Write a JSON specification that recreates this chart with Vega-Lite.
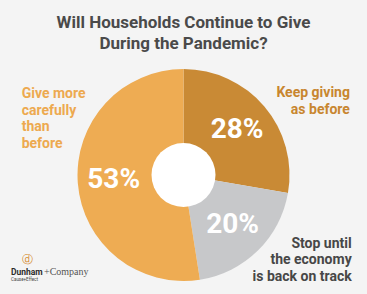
{
  "$schema": "https://vega.github.io/schema/vega-lite/v6.json",
  "width": 367,
  "height": 238,
  "autosize": {"type": "none"},
  "padding": {"top": 56, "left": 0, "right": 0, "bottom": 0},
  "background": "#F4F4F4",
  "title": {
    "text": ["Will Households Continue to Give", "During the Pandemic?"],
    "anchor": "middle",
    "frame": "group",
    "font": "Roboto",
    "fontSize": 17,
    "fontWeight": "bold",
    "color": "#4A4A4A",
    "lineHeight": 21,
    "offset": -2
  },
  "config": {"view": {"stroke": null}},
  "data": {
    "values": [
      {"category": "Keep giving as before", "label": "Keep giving\nas before", "pct": "28%", "value": 28, "rank": 1},
      {"category": "Stop until the economy is back on track", "label": "Stop until\nthe economy\nis back on track", "pct": "20%", "value": 20, "rank": 2},
      {"category": "Give more carefully than before", "label": "Give more\ncarefully\nthan\nbefore", "pct": "53%", "value": 53, "rank": 3}
    ]
  },
  "layer": [
    {
      "mark": {"type": "arc", "outerRadius": 106, "innerRadius": 0},
      "encoding": {
        "theta": {"field": "value", "type": "quantitative", "stack": true},
        "order": {"field": "rank", "type": "ordinal"},
        "color": {
          "field": "category",
          "type": "nominal",
          "scale": {
            "domain": ["Keep giving as before", "Stop until the economy is back on track", "Give more carefully than before"],
            "range": ["#C98A35", "#C7C8CA", "#EEAC53"]
          },
          "legend": null
        }
      }
    },
    {
      "data": {"values": [{"hole": "center"}]},
      "mark": {"type": "arc", "radius": 32, "theta": 0, "theta2": 6.2832, "fill": "#FFFFFF"},
      "encoding": {}
    },
    {
      "mark": {"type": "text", "radius": 70, "font": "Roboto", "fontSize": 28, "fontWeight": "bold", "fill": "#FFFFFF", "align": "center", "baseline": "middle"},
      "encoding": {
        "theta": {"field": "value", "type": "quantitative", "stack": true},
        "order": {"field": "rank", "type": "ordinal"},
        "text": {"field": "pct", "type": "nominal"}
      }
    },
    {
      "mark": {"type": "text", "radius": 130, "font": "Roboto", "fontSize": 14, "fontWeight": "bold", "fill": "#C8862F", "align": "right", "baseline": "alphabetic", "lineBreak": "\n", "lineHeight": 17, "dx": 67, "dy": 6},
      "encoding": {
        "theta": {"field": "value", "type": "quantitative", "stack": true},
        "order": {"field": "rank", "type": "ordinal"},
        "text": {"condition": {"test": "datum.rank === 1", "field": "label"}, "value": ""}
      }
    },
    {
      "mark": {"type": "text", "radius": 130, "font": "Roboto", "fontSize": 14, "fontWeight": "bold", "fill": "#474747", "align": "right", "baseline": "alphabetic", "lineBreak": "\n", "lineHeight": 16.5, "dx": 77, "dy": -20},
      "encoding": {
        "theta": {"field": "value", "type": "quantitative", "stack": true},
        "order": {"field": "rank", "type": "ordinal"},
        "text": {"condition": {"test": "datum.rank === 2", "field": "label"}, "value": ""}
      }
    },
    {
      "mark": {"type": "text", "radius": 50, "font": "Roboto", "fontSize": 14, "fontWeight": "bold", "fill": "#EDA94F", "align": "left", "baseline": "alphabetic", "lineBreak": "\n", "lineHeight": 16.7, "dx": -112, "dy": -81},
      "encoding": {
        "theta": {"field": "value", "type": "quantitative", "stack": true},
        "order": {"field": "rank", "type": "ordinal"},
        "text": {"condition": {"test": "datum.rank === 3", "field": "label"}, "value": ""}
      }
    },
    {
      "data": {"values": [{"brand": "Dunham"}]},
      "mark": {"type": "text", "x": 11, "y": 219, "font": "Roboto", "fontSize": 8.5, "fontWeight": "bold", "fill": "#2B2B2B", "align": "left", "baseline": "alphabetic"},
      "encoding": {"text": {"field": "brand", "type": "nominal"}}
    },
    {
      "data": {"values": [{"brand": "+Company"}]},
      "mark": {"type": "text", "x": 44, "y": 219, "font": "Liberation Serif", "fontSize": 10, "fill": "#555555", "align": "left", "baseline": "alphabetic"},
      "encoding": {"text": {"field": "brand", "type": "nominal"}}
    },
    {
      "data": {"values": [{"brand": "Cause+Effect"}]},
      "mark": {"type": "text", "x": 11, "y": 225, "font": "Roboto", "fontSize": 4.5, "fill": "#444444", "align": "left", "baseline": "alphabetic"},
      "encoding": {"text": {"field": "brand", "type": "nominal"}}
    },
    {
      "data": {"values": [{"brand": "ⓓ"}]},
      "mark": {"type": "text", "x": 27, "y": 204, "font": "DejaVu Sans", "fontSize": 11, "fill": "#D58A2C", "align": "center", "baseline": "middle"},
      "encoding": {"text": {"field": "brand", "type": "nominal"}}
    }
  ]
}
